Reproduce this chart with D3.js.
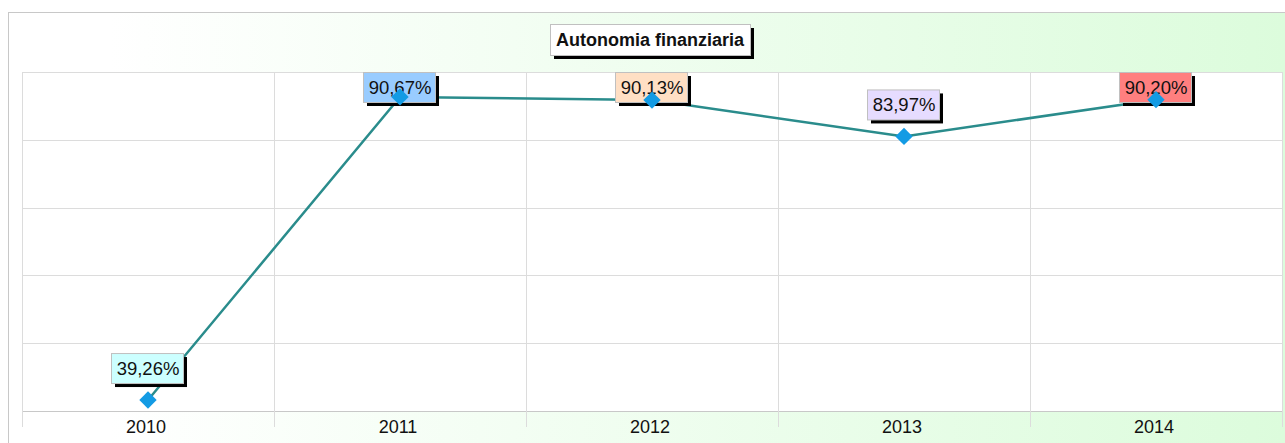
<!DOCTYPE html>
<html>
<head>
<meta charset="utf-8">
<script src="https://cdn.jsdelivr.net/npm/d3@7"></script>
<style>
  body { margin: 0; background: #fff; }
  svg { display: block; font-family: "Liberation Sans", Arial, sans-serif; }
</style>
</head>
<body>
<div id="chart"></div>
<script>
// data
var years = ["2010", "2011", "2012", "2013", "2014"];
var values = [39.26, 90.67, 90.13, 83.97, 90.20];
var labelColors = ["#ccffff", "#99ccff", "#ffdfc4", "#e6dcff", "#ff7f7f"];
var chartTitle = "Autonomia finanziaria";

var width = 1285, height = 443;
var margin = {top: 72, right: 3, bottom: 32, left: 22};
var plotW = width - margin.left - margin.right;
var plotH = height - margin.top - margin.bottom;

var svg = d3.select("#chart").append("svg")
    .attr("width", width)
    .attr("height", height);

// background gradient (white -> light green)
var defs = svg.append("defs");
var grad = defs.append("linearGradient").attr("id", "bg").attr("x1", "0").attr("x2", "1").attr("y1", "0").attr("y2", "0");
grad.append("stop").attr("offset", "0.08").attr("stop-color", "#ffffff");
grad.append("stop").attr("offset", "1").attr("stop-color", "#dcfcdc");

svg.append("rect")
    .attr("x", 8.5).attr("y", 12.5)
    .attr("width", width - 8).attr("height", height)
    .attr("fill", "url(#bg)")
    .attr("stroke", "#c8c8c8");

var x = d3.scaleBand().domain(years).range([0, plotW]);
var y = d3.scaleLinear().domain([37.4, 94.9]).range([plotH, 0]);

var g = svg.append("g").attr("transform", "translate(" + margin.left + "," + margin.top + ")");

g.append("rect")
    .attr("width", plotW).attr("height", plotH)
    .attr("fill", "#ffffff");

// horizontal grid
var yTicks = d3.range(0, 6).map(function (i) { return y.domain()[0] + i * (y.domain()[1] - y.domain()[0]) / 5; });
g.selectAll(".hgrid").data(yTicks).enter().append("line")
    .attr("x1", 0).attr("x2", plotW)
    .attr("y1", function (d) { return Math.round(y(d)) + 0.5; })
    .attr("y2", function (d) { return Math.round(y(d)) + 0.5; })
    .attr("stroke", function (d, i) { return i == 0 ? "#c8c8c8" : "#dcdcdc"; })
    .attr("stroke-width", 1);

// vertical grid (band edges, extending below the axis as ticks)
var edges = years.map(function (d) { return x(d); }).concat([plotW]);
g.selectAll(".vgrid").data(edges).enter().append("line")
    .attr("x1", function (d) { return Math.round(d) + 0.5; })
    .attr("x2", function (d) { return Math.round(d) + 0.5; })
    .attr("y1", 0).attr("y2", plotH + 16)
    .attr("stroke", "#dcdcdc");

// x axis labels
g.selectAll(".xlab").data(years).enter().append("text")
    .attr("x", function (d) { return x(d) + x.bandwidth() / 2 - 2; })
    .attr("y", plotH + 22)
    .attr("text-anchor", "middle")
    .attr("font-size", "18px")
    .attr("fill", "#111")
    .text(function (d) { return d; });

// line
var pts = years.map(function (d, i) { return {year: d, value: values[i], color: labelColors[i]}; });
var line = d3.line()
    .x(function (d) { return x(d.year) + x.bandwidth() / 2; })
    .y(function (d) { return y(d.value); });
g.append("path").datum(pts)
    .attr("d", line)
    .attr("fill", "none")
    .attr("stroke", "#2a8c8c")
    .attr("stroke-width", 2.5);

// labels with shadow
var boxW = 72, boxH = 30;
var labels = g.selectAll(".lab").data(pts).enter().append("g")
    .attr("transform", function (d) {
        var cx = x(d.year) + x.bandwidth() / 2 - 1;
        var top = Math.max(0, y(d.value) - 47);
        return "translate(" + (cx - boxW / 2) + "," + top + ")";
    });
labels.append("rect")
    .attr("x", 4).attr("y", 4)
    .attr("width", boxW).attr("height", boxH)
    .attr("fill", "#000");
labels.append("rect")
    .attr("x", 0.5).attr("y", 0.5)
    .attr("width", boxW).attr("height", boxH)
    .attr("fill", function (d) { return d.color; })
    .attr("stroke", "#c0c0c0");
labels.append("text")
    .attr("x", boxW / 2 + 1).attr("y", 22)
    .attr("text-anchor", "middle")
    .attr("font-size", "18.5px")
    .attr("fill", "#111")
    .text(function (d) { return d.value.toFixed(2).replace(".", ",") + "%"; });

// markers
g.selectAll(".mark").data(pts).enter().append("path")
    .attr("d", d3.symbol().type(d3.symbolSquare).size(150))
    .attr("transform", function (d) {
        return "translate(" + (x(d.year) + x.bandwidth() / 2) + "," + y(d.value) + ") rotate(45)";
    })
    .attr("fill", "#139be4");

// title
var tg = svg.append("g").attr("transform", "translate(550,24)");
tg.append("rect").attr("x", 4).attr("y", 4).attr("width", 200).attr("height", 31).attr("fill", "#000");
tg.append("rect").attr("x", 0.5).attr("y", 0.5).attr("width", 200).attr("height", 31)
    .attr("fill", "#fff").attr("stroke", "#c0c0c0");
tg.append("text")
    .attr("x", 100).attr("y", 22)
    .attr("text-anchor", "middle")
    .attr("font-size", "18px")
    .attr("font-weight", "bold")
    .attr("fill", "#111")
    .text(chartTitle);
</script>
</body>
</html>
